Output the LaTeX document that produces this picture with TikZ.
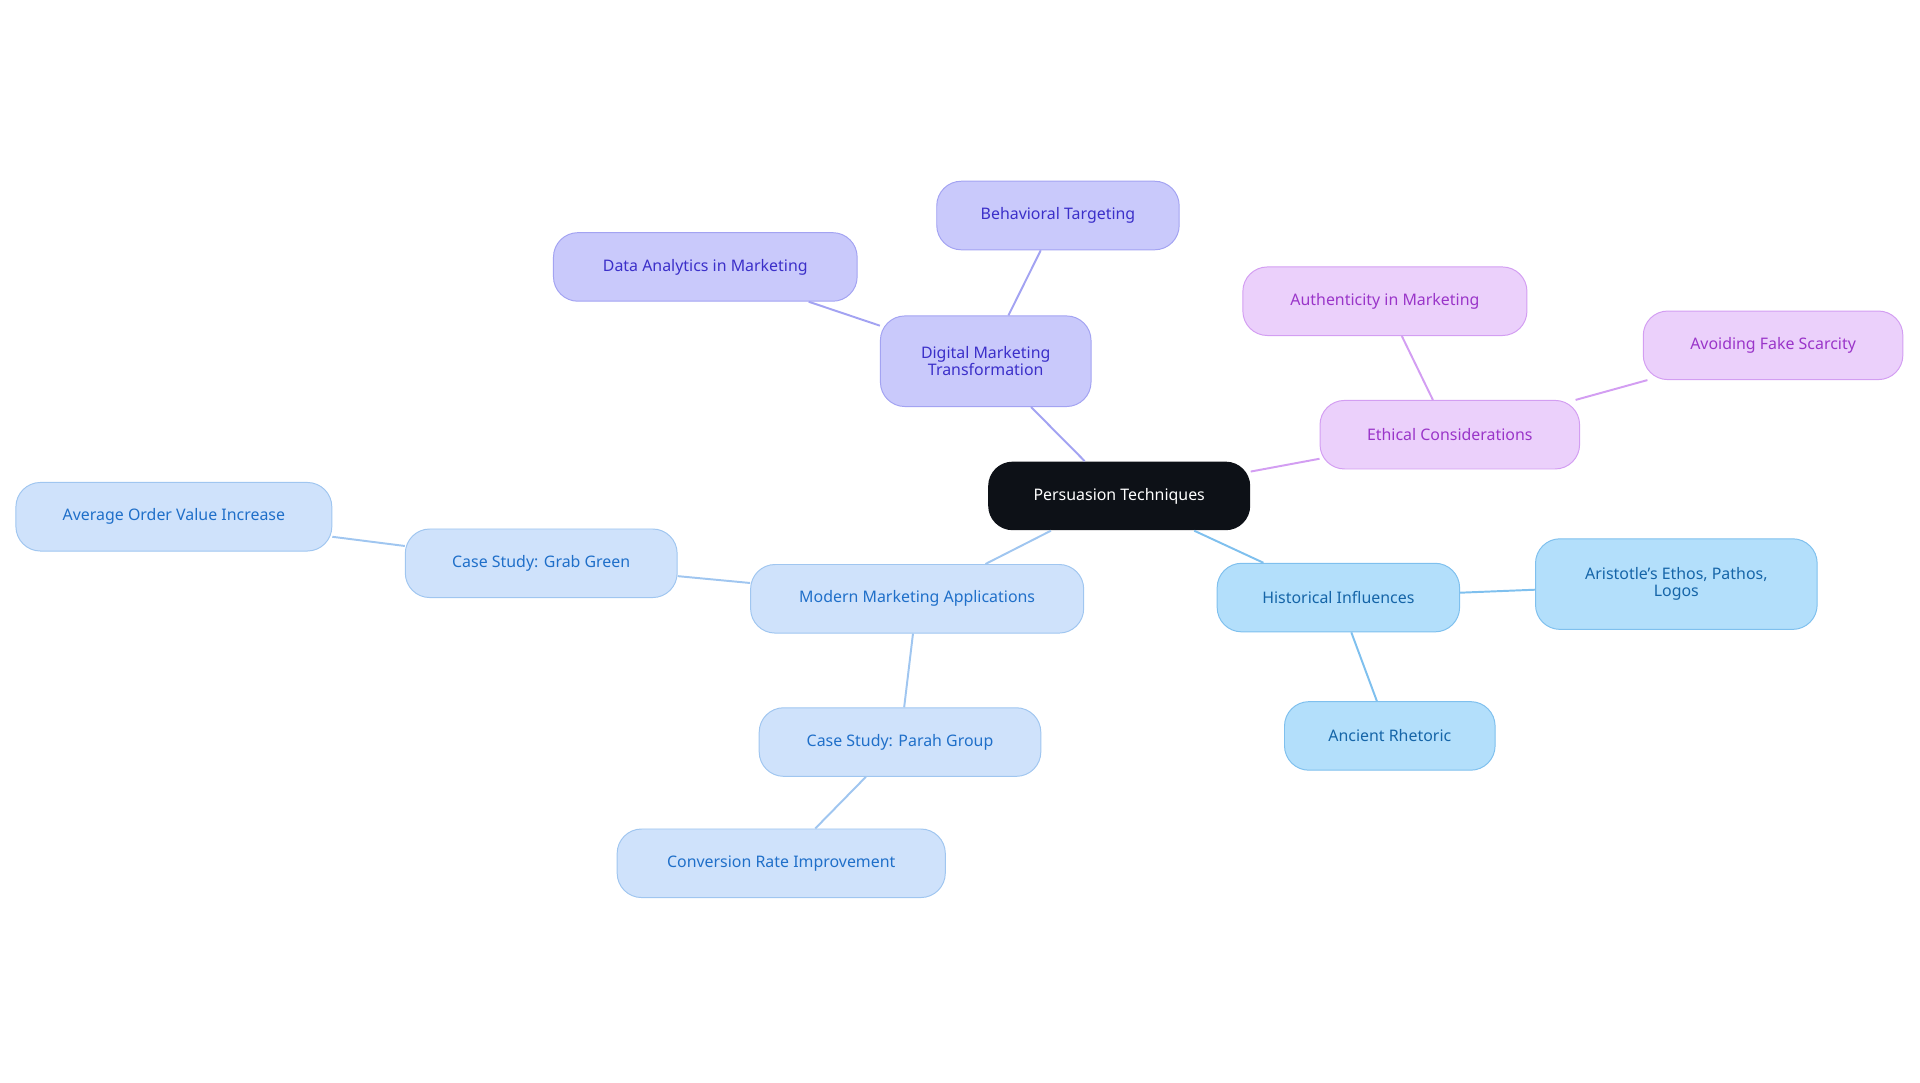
\documentclass[tikz,border=0pt]{standalone}
\usepackage{fontspec}
\setmainfont{Noto Sans}
\definecolor{cF}{HTML}{0D1117}
\definecolor{pF}{HTML}{C9C9FB}\definecolor{pD}{HTML}{A3A3F2}\definecolor{pT}{HTML}{3B2FC9}
\definecolor{mF}{HTML}{EBD0FB}\definecolor{mD}{HTML}{D39EF2}\definecolor{mT}{HTML}{9A35C9}
\definecolor{hF}{HTML}{B3DFFB}\definecolor{hD}{HTML}{7FC0EE}\definecolor{hT}{HTML}{1565A8}
\definecolor{bF}{HTML}{CFE2FB}\definecolor{bD}{HTML}{A0C6F0}\definecolor{bT}{HTML}{1F6FC9}
\begin{document}
\begin{tikzpicture}[x=1pt,y=-1pt,
  box/.style={rounded corners=20pt,minimum height=56pt,align=center,font=\fontsize{13}{13.5}\selectfont,line width=0.8pt,inner sep=2pt},
  pb/.style={box,fill=pF,draw=pD,text=pT},
  mb/.style={box,fill=mF,draw=mD,text=mT},
  hb/.style={box,fill=hF,draw=hD,text=hT},
  bb/.style={box,fill=bF,draw=bD,text=bT},
  ln/.style={line width=1.6pt}]
\useasboundingbox (0,0) rectangle (1568,884);
\node[box,fill=cF,draw=none,text=white,minimum width=214pt] (c) at (914,405) {Persuasion Techniques};
\node[pb,minimum width=172pt,minimum height=74pt] (d) at (805,295) {Digital Marketing\\Transformation};
\node[pb,minimum width=198pt] (d1) at (864,176) {Behavioral Targeting};
\node[pb,minimum width=248pt] (d2) at (576,218) {Data Analytics in Marketing};
\node[mb,minimum width=212pt] (e) at (1184,355) {Ethical Considerations};
\node[mb,minimum width=232pt] (e1) at (1131,246) {Authenticity in Marketing};
\node[mb,minimum width=212pt] (e2) at (1448,282) {Avoiding Fake Scarcity};
\node[hb,minimum width=198pt] (h) at (1093,488) {Historical Influences};
\node[hb,minimum width=230pt,minimum height=74pt] (h1) at (1369,477) {Aristotle's Ethos, Pathos,\\Logos};
\node[hb,minimum width=172pt] (h2) at (1135,601) {Ancient Rhetoric};
\node[bb,minimum width=272pt] (m) at (749,489) {Modern Marketing Applications};
\node[bb,minimum width=222pt] (m1) at (442,460) {Case Study: Grab Green};
\node[bb,minimum width=258pt] (m2) at (142,422) {Average Order Value Increase};
\node[bb,minimum width=230pt] (m3) at (735,606) {Case Study: Parah Group};
\node[bb,minimum width=268pt] (m4) at (638,705) {Conversion Rate Improvement};
\draw[ln,pD] (c)--(d) (d)--(d1) (d)--(d2);
\draw[ln,mD] (c)--(e) (e)--(e1) (e)--(e2);
\draw[ln,hD] (c)--(h) (h)--(h1) (h)--(h2);
\draw[ln,bD] (c)--(m) (m)--(m1) (m1)--(m2) (m)--(m3) (m3)--(m4);
\end{tikzpicture}
\end{document}
